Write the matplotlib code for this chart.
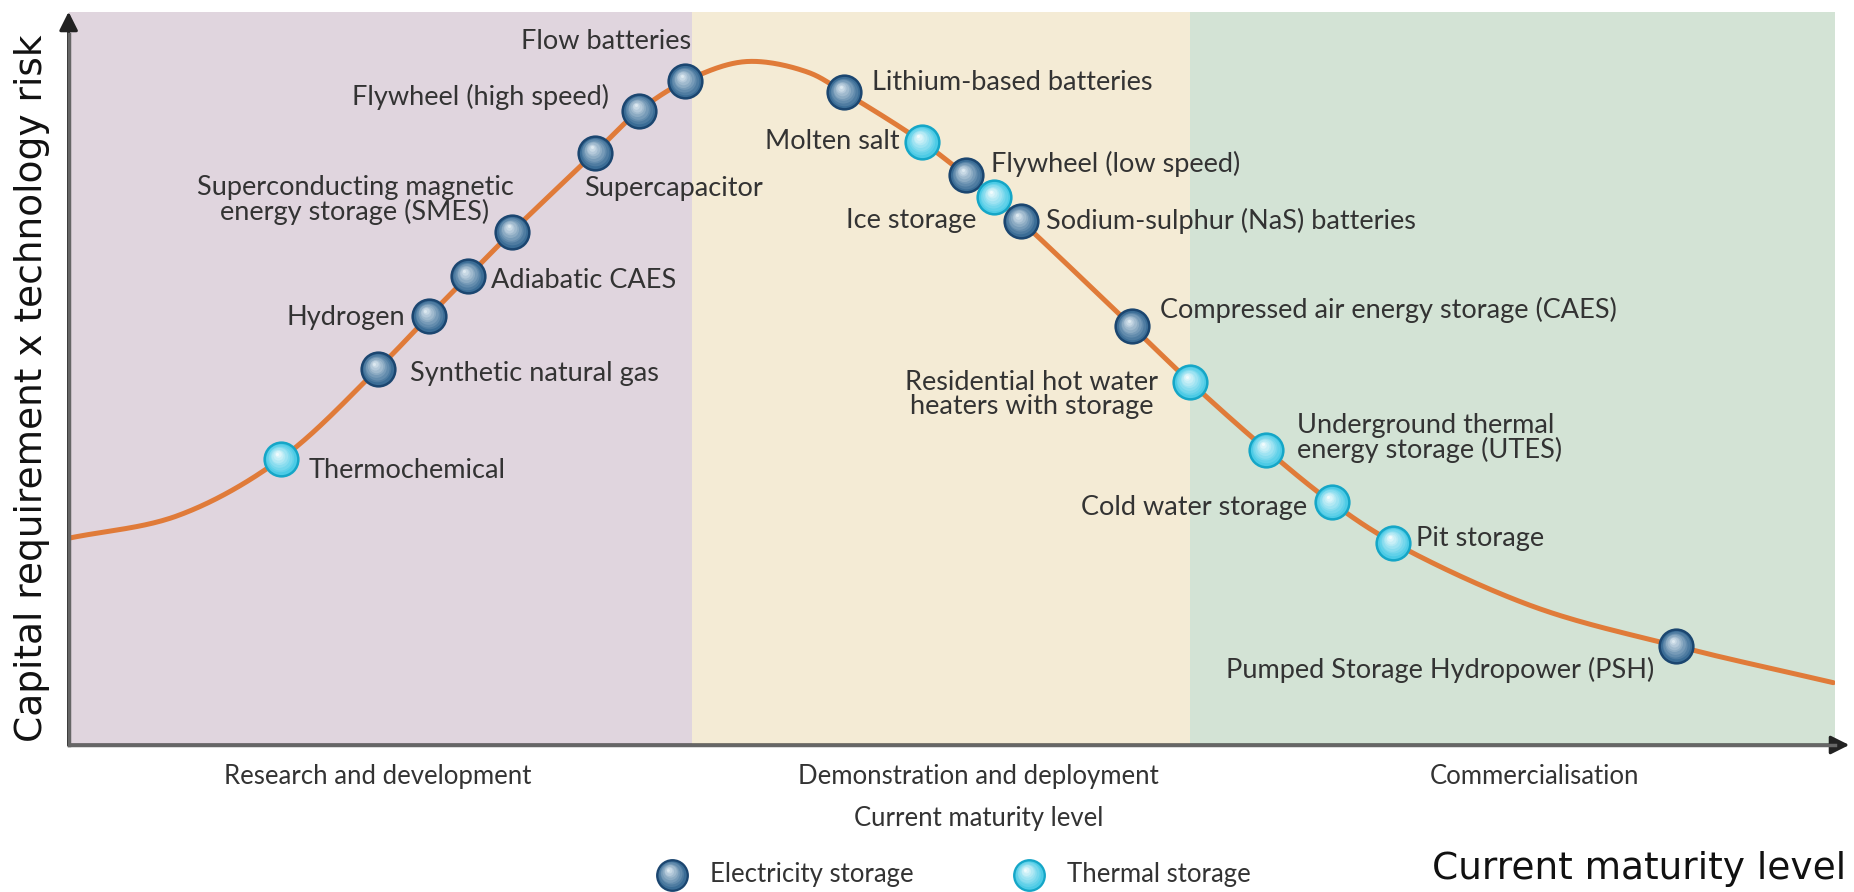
import numpy as np
import matplotlib
matplotlib.use("Agg")
from matplotlib import pyplot as plt
from matplotlib.transforms import offset_copy
from matplotlib.colors import to_rgb

# stages along the maturity axis
stage_names = ["Research and development", "Demonstration and deployment", "Commercialisation"]
stage_edges = [0, 35.3, 63.5, 100]
stage_label_x = [17.5, 51.5, 83.0]
stage_colors = ["#e0d5de", "#f4ebd5", "#d3e3d5"]

# technologies: maturity vs capital requirement x technology risk
techs = ["Thermochemical", "Synthetic natural gas", "Hydrogen", "Adiabatic CAES",
         "Superconducting magnetic\nenergy storage (SMES)", "Supercapacitor",
         "Flywheel (high speed)", "Flow batteries", "Lithium-based batteries",
         "Molten salt", "Flywheel (low speed)", "Ice storage",
         "Sodium-sulphur (NaS) batteries", "Compressed air energy storage (CAES)",
         "Residential hot water\nheaters with storage",
         "Underground thermal\nenergy storage (UTES)", "Cold water storage",
         "Pit storage", "Pumped Storage Hydropower (PSH)"]
maturity = [12.0, 17.5, 20.4, 22.6, 25.1, 29.8, 32.3, 34.9, 43.9, 48.3,
            50.8, 52.4, 53.9, 60.2, 63.5, 67.8, 71.5, 75.0, 91.0]
risk = [39.0, 51.3, 58.5, 63.9, 70.0, 80.8, 86.5, 90.5, 89.0, 82.3,
        77.7, 74.7, 71.5, 57.1, 49.5, 40.3, 33.1, 27.6, 13.5]
kind = ["T", "E", "E", "E", "E", "E", "E", "E", "E", "T",
        "E", "T", "E", "E", "T", "T", "T", "T", "E"]

# other points on the curve (no technology attached)
curve_x = [0, 6.2, 38.3, 41.8, 82.9, 99.9]
curve_y = [28.2, 31.3, 93.2, 91.8, 18.9, 8.5]

# label layout: offset in points and alignment
label_off = [(20, -8), (23, -3), (-17, -1), (17, -3), (-113, 23), (-8, -26),
             (-22, 10), (4, 29), (20, 7), (-16, 0), (18, 8), (-13, -17),
             (18, 0), (20, 12), (-23, -9), (22, 8), (-18, -4), (16, 3), (-16, -17)]
label_ha = ["left", "left", "right", "left", "center", "left", "right", "right",
            "left", "right", "left", "right", "left", "left", "right", "left",
            "right", "left", "right"]

ball_cols = {"E": ("#1b4670", "#3b6d96", "#dce8f0"),
             "T": ("#15a6c7", "#4ccbe6", "#f0fbfd")}

txt_font = ["Lato", "DejaVu Sans"]
txt_col = "#333333"


def smooth_curve(px, py, sx=14.94, sy=6.2, n=40):
    # centripetal catmull-rom through the points (in pixel-like space)
    pts = np.column_stack([np.array(px) * sx, np.array(py) * sy])
    pts = np.vstack([2 * pts[0] - pts[1], pts, 2 * pts[-1] - pts[-2]])
    out = []
    for i in range(1, len(pts) - 2):
        p0, p1, p2, p3 = pts[i - 1], pts[i], pts[i + 1], pts[i + 2]
        t0 = 0.0
        t1 = t0 + np.linalg.norm(p1 - p0) ** 0.5
        t2 = t1 + np.linalg.norm(p2 - p1) ** 0.5
        t3 = t2 + np.linalg.norm(p3 - p2) ** 0.5
        t = np.linspace(t1, t2, n)[:, None]
        a1 = (t1 - t) / (t1 - t0) * p0 + (t - t0) / (t1 - t0) * p1
        a2 = (t2 - t) / (t2 - t1) * p1 + (t - t1) / (t2 - t1) * p2
        a3 = (t3 - t) / (t3 - t2) * p2 + (t - t2) / (t3 - t2) * p3
        b1 = (t2 - t) / (t2 - t0) * a1 + (t - t0) / (t2 - t0) * a2
        b2 = (t3 - t) / (t3 - t1) * a2 + (t - t1) / (t3 - t1) * a3
        c = (t2 - t) / (t2 - t1) * b1 + (t - t1) / (t2 - t1) * b2
        out.append(c)
    out = np.vstack(out)
    return out[:, 0] / sx, out[:, 1] / sy


def draw_balls(ax, fig, x, y, cols, size=680, transform=None, clip=True):
    base = transform if transform is not None else ax.transData
    edge, mid, light = [np.array(to_rgb(c)) for c in cols]
    ax.scatter(x, y, s=size, color=edge, linewidths=0, zorder=4,
               transform=base, clip_on=clip)
    steps = 9
    for k in range(steps):
        f = k / (steps - 1)
        s = size * (0.8 - 0.72 * f) ** 2 / 0.64 * 0.74
        c = mid * (1 - f) + light * f
        tr = offset_copy(base, fig=fig, x=-2.5 * f, y=3.8 * f, units="points")
        ax.scatter(x, y, s=s, color=c, linewidths=0, zorder=5 + k,
                   transform=tr, clip_on=clip)


fig = plt.figure(figsize=(18.54, 8.92), dpi=100)
ax = fig.add_axes([0.037, 0.1648, 0.9528, 0.822])
ax.set_xlim(0, 100)
ax.set_ylim(0, 100)
for sp in ax.spines.values():
    sp.set_visible(False)
ax.set_xticks([])
ax.set_yticks([])

# stage backgrounds
for i in range(len(stage_names)):
    ax.axvspan(stage_edges[i], stage_edges[i + 1], color=stage_colors[i], lw=0, zorder=0)
    ax.text(stage_label_x[i], -0.0435, stage_names[i], transform=ax.get_xaxis_transform(),
            ha="center", va="center", fontsize=18.5, family=txt_font, color=txt_col)

# axes with arrows
ax.annotate("", xy=(1.008, 0), xytext=(0, 0), xycoords="axes fraction",
            arrowprops=dict(arrowstyle="-|>", color="#222222", lw=2.2,
                            mutation_scale=28, shrinkA=0, shrinkB=0), zorder=6)
ax.annotate("", xy=(0, 1.0), xytext=(0, 0), xycoords="axes fraction",
            arrowprops=dict(arrowstyle="-|>", color="#222222", lw=2.2,
                            mutation_scale=28, shrinkA=0, shrinkB=0), zorder=6)
ax.plot([0, 1.0], [0, 0], color="#666666", lw=2.5, transform=ax.transAxes,
        clip_on=False, zorder=6)
ax.plot([0, 0], [0, 0.97], color="#666666", lw=2.5, transform=ax.transAxes,
        clip_on=False, zorder=6)

# the curve
all_x = np.array(maturity + curve_x)
all_y = np.array(risk + curve_y)
order = np.argsort(all_x)
cx, cy = smooth_curve(all_x[order], all_y[order])
ax.plot(cx, cy, color="#e07b39", lw=3.6, zorder=3, solid_capstyle="round")

# technology balls and labels
for k in ["E", "T"]:
    xs = [m for m, kk in zip(maturity, kind) if kk == k]
    ys = [r for r, kk in zip(risk, kind) if kk == k]
    draw_balls(ax, fig, xs, ys, ball_cols[k])

for name, x, y, off, ha in zip(techs, maturity, risk, label_off, label_ha):
    ax.annotate(name, xy=(x, y), xytext=off, textcoords="offset points",
                ha=ha, va="center", fontsize=19.5, family=txt_font, color=txt_col,
                multialignment="center" if ha != "left" else "left",
                linespacing=0.95, zorder=20)

# inner axis title and legend
ax.text(51.5, -0.1, "Current maturity level", transform=ax.get_xaxis_transform(),
        ha="center", va="center", fontsize=18.5, family=txt_font, color=txt_col)
legend_items = [("E", "Electricity storage", 0.3414), ("T", "Thermal storage", 0.5435)]
for k, lab, lx in legend_items:
    draw_balls(ax, fig, [lx], [-0.177], ball_cols[k], size=560,
               transform=ax.transAxes, clip=False)
    ax.text(lx + 0.0215, -0.177, lab, transform=ax.transAxes, ha="left", va="center",
            fontsize=18.5, family=txt_font, color=txt_col)

# outer axis titles
fig.text(0.0175, 0.565, "Capital requirement x technology risk", rotation=90,
         ha="center", va="center", fontsize=27, color="#111111")
fig.text(0.996, 0.026, "Current maturity level", ha="right", va="center",
         fontsize=27, color="#111111")

fig.savefig("out.png", dpi=100)
